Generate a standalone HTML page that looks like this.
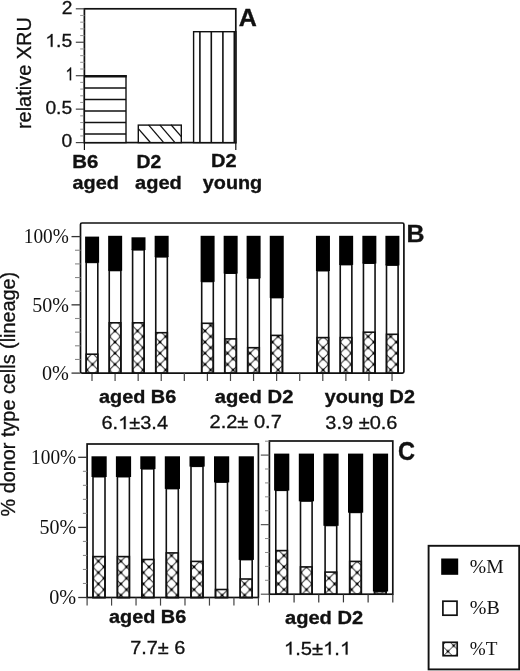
<!DOCTYPE html>
<html><head><meta charset="utf-8"><title>Figure</title>
<style>html,body{margin:0;padding:0;background:#fff;}svg{display:block;will-change:transform;filter:blur(0.35px);}text{white-space:pre;}.sans{font-family:"Liberation Sans",sans-serif;}.serif{font-family:"Liberation Serif",serif;}</style></head>
<body><svg width="520" height="671" viewBox="0 0 520 671" shape-rendering="geometricPrecision">
<rect x="0" y="0" width="520" height="671" fill="#fff"/>
<rect x="84.40" y="8.80" width="151.40" height="133.80" fill="none" stroke="#111" stroke-width="1.7"/>
<line x1="84.40" y1="142.60" x2="84.40" y2="150.00" stroke="#111" stroke-width="1.2" stroke-linecap="butt"/>
<line x1="235.80" y1="142.60" x2="235.80" y2="150.00" stroke="#111" stroke-width="1.2" stroke-linecap="butt"/>
<line x1="75.80" y1="8.80" x2="84.40" y2="8.80" stroke="#444" stroke-width="1.2" stroke-linecap="butt"/>
<line x1="80.20" y1="15.49" x2="84.40" y2="15.49" stroke="#999" stroke-width="1.1" stroke-linecap="butt"/>
<line x1="80.20" y1="22.18" x2="84.40" y2="22.18" stroke="#999" stroke-width="1.1" stroke-linecap="butt"/>
<line x1="80.20" y1="28.87" x2="84.40" y2="28.87" stroke="#999" stroke-width="1.1" stroke-linecap="butt"/>
<line x1="80.20" y1="35.56" x2="84.40" y2="35.56" stroke="#999" stroke-width="1.1" stroke-linecap="butt"/>
<line x1="75.80" y1="42.25" x2="84.40" y2="42.25" stroke="#444" stroke-width="1.2" stroke-linecap="butt"/>
<line x1="80.20" y1="48.94" x2="84.40" y2="48.94" stroke="#999" stroke-width="1.1" stroke-linecap="butt"/>
<line x1="80.20" y1="55.63" x2="84.40" y2="55.63" stroke="#999" stroke-width="1.1" stroke-linecap="butt"/>
<line x1="80.20" y1="62.32" x2="84.40" y2="62.32" stroke="#999" stroke-width="1.1" stroke-linecap="butt"/>
<line x1="80.20" y1="69.01" x2="84.40" y2="69.01" stroke="#999" stroke-width="1.1" stroke-linecap="butt"/>
<line x1="75.80" y1="75.70" x2="84.40" y2="75.70" stroke="#444" stroke-width="1.2" stroke-linecap="butt"/>
<line x1="80.20" y1="82.39" x2="84.40" y2="82.39" stroke="#999" stroke-width="1.1" stroke-linecap="butt"/>
<line x1="80.20" y1="89.08" x2="84.40" y2="89.08" stroke="#999" stroke-width="1.1" stroke-linecap="butt"/>
<line x1="80.20" y1="95.77" x2="84.40" y2="95.77" stroke="#999" stroke-width="1.1" stroke-linecap="butt"/>
<line x1="80.20" y1="102.46" x2="84.40" y2="102.46" stroke="#999" stroke-width="1.1" stroke-linecap="butt"/>
<line x1="75.80" y1="109.15" x2="84.40" y2="109.15" stroke="#444" stroke-width="1.2" stroke-linecap="butt"/>
<line x1="80.20" y1="115.84" x2="84.40" y2="115.84" stroke="#999" stroke-width="1.1" stroke-linecap="butt"/>
<line x1="80.20" y1="122.53" x2="84.40" y2="122.53" stroke="#999" stroke-width="1.1" stroke-linecap="butt"/>
<line x1="80.20" y1="129.22" x2="84.40" y2="129.22" stroke="#999" stroke-width="1.1" stroke-linecap="butt"/>
<line x1="80.20" y1="135.91" x2="84.40" y2="135.91" stroke="#999" stroke-width="1.1" stroke-linecap="butt"/>
<line x1="75.80" y1="142.60" x2="84.40" y2="142.60" stroke="#444" stroke-width="1.2" stroke-linecap="butt"/>
<text transform="translate(61.68,14.10) scale(1.0400,1)" class="sans" font-size="18.5" font-weight="normal" fill="#111" stroke="#111" stroke-width="0.3">2</text>
<g transform="translate(45.31,46.85) scale(1.0455,1)" class="sans" font-size="18.5" fill="#111" stroke="#111" stroke-width="0.3"><path transform="translate(0.00,0) scale(0.00903,-0.00878)" d="M763 0H583V1147Q518 1085 412.5 1023T223 930V1104Q373 1174.5 485 1275T644 1466H763Z" stroke-width="33.2"/><text x="10.29" y="0">.5</text></g>
<g transform="translate(65.59,80.30) scale(0.7995,1)" class="sans" font-size="18.5" fill="#111" stroke="#111" stroke-width="0.3"><path transform="translate(0.00,0) scale(0.00903,-0.00878)" d="M763 0H583V1147Q518 1085 412.5 1023T223 930V1104Q373 1174.5 485 1275T644 1466H763Z" stroke-width="33.2"/></g>
<text transform="translate(45.43,113.75) scale(1.0400,1)" class="sans" font-size="18.5" font-weight="normal" fill="#111" stroke="#111" stroke-width="0.3">0.5</text>
<text transform="translate(61.44,147.20) scale(1.0400,1)" class="sans" font-size="18.5" font-weight="normal" fill="#111" stroke="#111" stroke-width="0.3">0</text>
<text transform="translate(30.80,129.05) rotate(-90) scale(1.0181,1)" class="sans" font-size="19.6" font-weight="normal" fill="#111" stroke="#111" stroke-width="0.3">relative XRU</text>
<rect x="84.40" y="75.80" width="41.60" height="66.80" fill="#fff" stroke="#111" stroke-width="1.4"/>
<line x1="84.40" y1="76.20" x2="126.70" y2="76.20" stroke="#111" stroke-width="2.6" stroke-linecap="butt"/>
<line x1="84.40" y1="88.10" x2="126.00" y2="88.10" stroke="#111" stroke-width="1.5" stroke-linecap="butt"/>
<line x1="84.40" y1="99.50" x2="126.00" y2="99.50" stroke="#111" stroke-width="1.5" stroke-linecap="butt"/>
<line x1="84.40" y1="111.00" x2="126.00" y2="111.00" stroke="#111" stroke-width="1.5" stroke-linecap="butt"/>
<line x1="84.40" y1="122.40" x2="126.00" y2="122.40" stroke="#111" stroke-width="1.5" stroke-linecap="butt"/>
<line x1="84.40" y1="134.00" x2="126.00" y2="134.00" stroke="#111" stroke-width="1.5" stroke-linecap="butt"/>
<defs><pattern id="dg" patternUnits="userSpaceOnUse" width="10" height="10" patternTransform="translate(142.9,124.7)"><path d="M-1,-1 L11,11 M-11,-1 L1,11 M9,-1 L21,11" stroke="#111" stroke-width="1.2" fill="none"/></pattern>
<pattern id="xh" patternUnits="userSpaceOnUse" width="11.25" height="11.15" patternTransform="translate(115,330.9)"><path d="M-1.125,-1.115 L12.375,12.265 M-1.125,12.265 L12.375,-1.115" stroke="#222" stroke-width="0.95" fill="none"/><circle cx="0" cy="0" r="1.4" fill="#000"/><circle cx="11.25" cy="0" r="1.4" fill="#000"/><circle cx="0" cy="11.15" r="1.4" fill="#000"/><circle cx="11.25" cy="11.15" r="1.4" fill="#000"/><circle cx="5.625" cy="5.575" r="1.4" fill="#000"/></pattern>
<pattern id="xc" patternUnits="userSpaceOnUse" width="11.25" height="11.35" patternTransform="translate(284,578.3)"><path d="M-1.125,-1.135 L12.375,12.485 M-1.125,12.485 L12.375,-1.135" stroke="#222" stroke-width="0.95" fill="none"/><circle cx="0" cy="0" r="1.4" fill="#000"/><circle cx="11.25" cy="0" r="1.4" fill="#000"/><circle cx="0" cy="11.35" r="1.4" fill="#000"/><circle cx="11.25" cy="11.35" r="1.4" fill="#000"/><circle cx="5.625" cy="5.675" r="1.4" fill="#000"/></pattern>
<pattern id="xl" patternUnits="userSpaceOnUse" width="11.5" height="11.5" patternTransform="translate(453.7,645.7)"><path d="M-1.150,-1.150 L12.650,12.650 M-1.150,12.650 L12.650,-1.150" stroke="#222" stroke-width="0.95" fill="none"/><circle cx="0" cy="0" r="1.4" fill="#000"/><circle cx="11.5" cy="0" r="1.4" fill="#000"/><circle cx="0" cy="11.5" r="1.4" fill="#000"/><circle cx="11.5" cy="11.5" r="1.4" fill="#000"/><circle cx="5.75" cy="5.75" r="1.4" fill="#000"/></pattern></defs>
<rect x="138.30" y="125.10" width="43.00" height="17.50" fill="#fff" stroke="#111" stroke-width="1.4"/>
<line x1="138.30" y1="128.60" x2="150.20" y2="142.20" stroke="#111" stroke-width="1.3" stroke-linecap="butt"/>
<line x1="148.50" y1="124.80" x2="163.30" y2="142.20" stroke="#111" stroke-width="1.3" stroke-linecap="butt"/>
<line x1="159.80" y1="124.80" x2="174.60" y2="142.20" stroke="#111" stroke-width="1.3" stroke-linecap="butt"/>
<line x1="171.00" y1="124.80" x2="181.30" y2="136.60" stroke="#111" stroke-width="1.3" stroke-linecap="butt"/>
<rect x="193.60" y="31.70" width="42.20" height="110.90" fill="#fff" stroke="#111" stroke-width="1.4"/>
<line x1="199.90" y1="31.70" x2="199.90" y2="142.60" stroke="#111" stroke-width="1.6" stroke-linecap="butt"/>
<line x1="211.30" y1="31.70" x2="211.30" y2="142.60" stroke="#111" stroke-width="1.6" stroke-linecap="butt"/>
<line x1="222.90" y1="31.70" x2="222.90" y2="142.60" stroke="#111" stroke-width="1.6" stroke-linecap="butt"/>
<line x1="234.30" y1="31.70" x2="234.30" y2="142.60" stroke="#111" stroke-width="1.6" stroke-linecap="butt"/>
<text transform="translate(238.77,25.75) scale(1.0193,1)" class="sans" font-size="24.6" font-weight="bold" fill="#111" stroke="#111" stroke-width="0.35">A</text>
<text transform="translate(72.37,167.50) scale(1.0672,1)" class="sans" font-size="19.1" font-weight="bold" fill="#111" stroke="#111" stroke-width="0.35">B6</text>
<text transform="translate(72.50,189.40) scale(1.0389,1)" class="sans" font-size="19.1" font-weight="bold" fill="#111" stroke="#111" stroke-width="0.35">aged</text>
<text transform="translate(136.60,167.50) scale(1.0113,1)" class="sans" font-size="19.1" font-weight="bold" fill="#111" stroke="#111" stroke-width="0.35">D2</text>
<text transform="translate(135.10,189.40) scale(1.0483,1)" class="sans" font-size="19.1" font-weight="bold" fill="#111" stroke="#111" stroke-width="0.35">aged</text>
<text transform="translate(210.95,166.90) scale(1.0471,1)" class="sans" font-size="19.1" font-weight="bold" fill="#111" stroke="#111" stroke-width="0.35">D2</text>
<text transform="translate(202.85,189.00) scale(1.0373,1)" class="sans" font-size="19.1" font-weight="bold" fill="#111" stroke="#111" stroke-width="0.35">young</text>
<text transform="translate(14.90,516.39) rotate(-90) scale(1.0171,1)" class="sans" font-size="19.5" font-weight="normal" fill="#111" stroke="#111" stroke-width="0.3">% donor type cells (lineage)</text>
<rect x="80.5" y="223" width="323.4" height="150.10000000000002" rx="1.5" fill="none" stroke="#111" stroke-width="1.7"/>
<line x1="71.50" y1="236.60" x2="80.50" y2="236.60" stroke="#333" stroke-width="1.3" stroke-linecap="butt"/>
<line x1="75.00" y1="250.25" x2="80.50" y2="250.25" stroke="#8a8a8a" stroke-width="1.1" stroke-linecap="butt"/>
<line x1="75.00" y1="263.90" x2="80.50" y2="263.90" stroke="#8a8a8a" stroke-width="1.1" stroke-linecap="butt"/>
<line x1="75.00" y1="277.55" x2="80.50" y2="277.55" stroke="#8a8a8a" stroke-width="1.1" stroke-linecap="butt"/>
<line x1="75.00" y1="291.20" x2="80.50" y2="291.20" stroke="#8a8a8a" stroke-width="1.1" stroke-linecap="butt"/>
<line x1="71.50" y1="304.85" x2="80.50" y2="304.85" stroke="#333" stroke-width="1.3" stroke-linecap="butt"/>
<line x1="75.00" y1="318.50" x2="80.50" y2="318.50" stroke="#8a8a8a" stroke-width="1.1" stroke-linecap="butt"/>
<line x1="75.00" y1="332.15" x2="80.50" y2="332.15" stroke="#8a8a8a" stroke-width="1.1" stroke-linecap="butt"/>
<line x1="75.00" y1="345.80" x2="80.50" y2="345.80" stroke="#8a8a8a" stroke-width="1.1" stroke-linecap="butt"/>
<line x1="75.00" y1="359.45" x2="80.50" y2="359.45" stroke="#8a8a8a" stroke-width="1.1" stroke-linecap="butt"/>
<line x1="71.50" y1="373.10" x2="80.50" y2="373.10" stroke="#333" stroke-width="1.3" stroke-linecap="butt"/>
<text transform="translate(23.81,243.30) scale(0.9650,1)" class="serif" font-size="20.0" font-weight="normal" fill="#111">100%</text>
<text transform="translate(32.20,311.55) scale(1.0000,1)" class="serif" font-size="20.0" font-weight="normal" fill="#111">50%</text>
<text transform="translate(41.94,379.80) scale(1.0100,1)" class="serif" font-size="20.0" font-weight="normal" fill="#111">0%</text>
<line x1="92.00" y1="373.10" x2="92.00" y2="381.00" stroke="#444" stroke-width="1.2" stroke-linecap="butt"/>
<line x1="115.08" y1="373.10" x2="115.08" y2="381.00" stroke="#444" stroke-width="1.2" stroke-linecap="butt"/>
<line x1="138.16" y1="373.10" x2="138.16" y2="381.00" stroke="#444" stroke-width="1.2" stroke-linecap="butt"/>
<line x1="161.24" y1="373.10" x2="161.24" y2="381.00" stroke="#444" stroke-width="1.2" stroke-linecap="butt"/>
<line x1="184.32" y1="373.10" x2="184.32" y2="381.00" stroke="#444" stroke-width="1.2" stroke-linecap="butt"/>
<line x1="207.40" y1="373.10" x2="207.40" y2="381.00" stroke="#444" stroke-width="1.2" stroke-linecap="butt"/>
<line x1="230.48" y1="373.10" x2="230.48" y2="381.00" stroke="#444" stroke-width="1.2" stroke-linecap="butt"/>
<line x1="253.56" y1="373.10" x2="253.56" y2="381.00" stroke="#444" stroke-width="1.2" stroke-linecap="butt"/>
<line x1="276.64" y1="373.10" x2="276.64" y2="381.00" stroke="#444" stroke-width="1.2" stroke-linecap="butt"/>
<line x1="299.72" y1="373.10" x2="299.72" y2="381.00" stroke="#444" stroke-width="1.2" stroke-linecap="butt"/>
<line x1="322.80" y1="373.10" x2="322.80" y2="381.00" stroke="#444" stroke-width="1.2" stroke-linecap="butt"/>
<line x1="345.88" y1="373.10" x2="345.88" y2="381.00" stroke="#444" stroke-width="1.2" stroke-linecap="butt"/>
<line x1="368.96" y1="373.10" x2="368.96" y2="381.00" stroke="#444" stroke-width="1.2" stroke-linecap="butt"/>
<line x1="392.04" y1="373.10" x2="392.04" y2="381.00" stroke="#444" stroke-width="1.2" stroke-linecap="butt"/>
<rect x="86.20" y="262.40" width="11.60" height="110.70" fill="#fff" stroke="#111" stroke-width="1.6"/>
<rect x="86.20" y="354.20" width="11.60" height="18.90" fill="url(#xh)" stroke="#111" stroke-width="1.6"/>
<rect x="85.10" y="236.60" width="14.00" height="26.10" fill="#000" stroke="none"/>
<rect x="109.25" y="270.50" width="11.60" height="102.60" fill="#fff" stroke="#111" stroke-width="1.6"/>
<rect x="109.25" y="322.80" width="11.60" height="50.30" fill="url(#xh)" stroke="#111" stroke-width="1.6"/>
<rect x="108.15" y="235.80" width="14.00" height="35.00" fill="#000" stroke="none"/>
<rect x="132.60" y="249.80" width="11.60" height="123.30" fill="#fff" stroke="#111" stroke-width="1.6"/>
<rect x="132.60" y="322.80" width="11.60" height="50.30" fill="url(#xh)" stroke="#111" stroke-width="1.6"/>
<rect x="131.50" y="237.30" width="14.00" height="12.80" fill="#000" stroke="none"/>
<rect x="155.75" y="256.80" width="11.60" height="116.30" fill="#fff" stroke="#111" stroke-width="1.6"/>
<rect x="155.75" y="332.70" width="11.60" height="40.40" fill="url(#xh)" stroke="#111" stroke-width="1.6"/>
<rect x="154.65" y="235.80" width="14.00" height="21.30" fill="#000" stroke="none"/>
<rect x="201.70" y="281.50" width="11.60" height="91.60" fill="#fff" stroke="#111" stroke-width="1.6"/>
<rect x="201.70" y="323.30" width="11.60" height="49.80" fill="url(#xh)" stroke="#111" stroke-width="1.6"/>
<rect x="200.60" y="235.80" width="14.00" height="46.00" fill="#000" stroke="none"/>
<rect x="224.75" y="273.20" width="11.60" height="99.90" fill="#fff" stroke="#111" stroke-width="1.6"/>
<rect x="224.75" y="338.90" width="11.60" height="34.20" fill="url(#xh)" stroke="#111" stroke-width="1.6"/>
<rect x="223.65" y="235.80" width="14.00" height="37.70" fill="#000" stroke="none"/>
<rect x="247.70" y="278.00" width="11.60" height="95.10" fill="#fff" stroke="#111" stroke-width="1.6"/>
<rect x="247.70" y="347.70" width="11.60" height="25.40" fill="url(#xh)" stroke="#111" stroke-width="1.6"/>
<rect x="246.60" y="235.80" width="14.00" height="42.50" fill="#000" stroke="none"/>
<rect x="270.85" y="297.60" width="11.60" height="75.50" fill="#fff" stroke="#111" stroke-width="1.6"/>
<rect x="270.85" y="335.40" width="11.60" height="37.70" fill="url(#xh)" stroke="#111" stroke-width="1.6"/>
<rect x="269.75" y="235.80" width="14.00" height="62.10" fill="#000" stroke="none"/>
<rect x="317.05" y="270.70" width="11.60" height="102.40" fill="#fff" stroke="#111" stroke-width="1.6"/>
<rect x="317.05" y="337.60" width="11.60" height="35.50" fill="url(#xh)" stroke="#111" stroke-width="1.6"/>
<rect x="315.95" y="235.80" width="14.00" height="35.20" fill="#000" stroke="none"/>
<rect x="340.25" y="264.60" width="11.60" height="108.50" fill="#fff" stroke="#111" stroke-width="1.6"/>
<rect x="340.25" y="337.60" width="11.60" height="35.50" fill="url(#xh)" stroke="#111" stroke-width="1.6"/>
<rect x="339.15" y="235.80" width="14.00" height="29.10" fill="#000" stroke="none"/>
<rect x="363.45" y="263.20" width="11.60" height="109.90" fill="#fff" stroke="#111" stroke-width="1.6"/>
<rect x="363.45" y="332.20" width="11.60" height="40.90" fill="url(#xh)" stroke="#111" stroke-width="1.6"/>
<rect x="362.35" y="235.80" width="14.00" height="27.70" fill="#000" stroke="none"/>
<rect x="386.50" y="265.10" width="11.60" height="108.00" fill="#fff" stroke="#111" stroke-width="1.6"/>
<rect x="386.50" y="334.30" width="11.60" height="38.80" fill="url(#xh)" stroke="#111" stroke-width="1.6"/>
<rect x="385.40" y="235.80" width="14.00" height="29.60" fill="#000" stroke="none"/>
<text transform="translate(406.62,241.70) scale(1.0212,1)" class="sans" font-size="24.4" font-weight="bold" fill="#111" stroke="#111" stroke-width="0.35">B</text>
<text transform="translate(99.00,402.50) scale(1.0458,1)" class="sans" font-size="19.0" font-weight="bold" fill="#111" stroke="#111" stroke-width="0.35">aged B6</text>
<g transform="translate(101.50,429.10) scale(1.0869,1)" class="sans" font-size="18.4" fill="#111" stroke="#111" stroke-width="0.3"><text x="0.00" y="0">6.</text><path transform="translate(15.35,0) scale(0.00898,-0.00873)" d="M763 0H583V1147Q518 1085 412.5 1023T223 930V1104Q373 1174.5 485 1275T644 1466H763Z" stroke-width="33.4"/><text x="25.58" y="0">±3.4</text></g>
<text transform="translate(214.79,402.50) scale(1.0637,1)" class="sans" font-size="19.0" font-weight="bold" fill="#111" stroke="#111" stroke-width="0.35">aged D2</text>
<text transform="translate(209.50,428.00) scale(1.0901,1)" class="sans" font-size="18.4" font-weight="normal" fill="#111" stroke="#111" stroke-width="0.3">2.2± 0.7</text>
<text transform="translate(324.75,402.80) scale(1.0427,1)" class="sans" font-size="19.0" font-weight="bold" fill="#111" stroke="#111" stroke-width="0.35">young D2</text>
<text transform="translate(325.35,429.00) scale(1.0854,1)" class="sans" font-size="18.4" font-weight="normal" fill="#111" stroke="#111" stroke-width="0.3">3.9 ±0.6</text>
<rect x="87.10" y="444.00" width="171.30" height="153.50" fill="none" stroke="#111" stroke-width="1.7"/>
<line x1="78.20" y1="457.30" x2="87.10" y2="457.30" stroke="#333" stroke-width="1.3" stroke-linecap="butt"/>
<line x1="82.90" y1="471.32" x2="87.10" y2="471.32" stroke="#8a8a8a" stroke-width="1.1" stroke-linecap="butt"/>
<line x1="82.90" y1="485.34" x2="87.10" y2="485.34" stroke="#8a8a8a" stroke-width="1.1" stroke-linecap="butt"/>
<line x1="82.90" y1="499.36" x2="87.10" y2="499.36" stroke="#8a8a8a" stroke-width="1.1" stroke-linecap="butt"/>
<line x1="82.90" y1="513.38" x2="87.10" y2="513.38" stroke="#8a8a8a" stroke-width="1.1" stroke-linecap="butt"/>
<line x1="78.20" y1="527.40" x2="87.10" y2="527.40" stroke="#333" stroke-width="1.3" stroke-linecap="butt"/>
<line x1="82.90" y1="541.42" x2="87.10" y2="541.42" stroke="#8a8a8a" stroke-width="1.1" stroke-linecap="butt"/>
<line x1="82.90" y1="555.44" x2="87.10" y2="555.44" stroke="#8a8a8a" stroke-width="1.1" stroke-linecap="butt"/>
<line x1="82.90" y1="569.46" x2="87.10" y2="569.46" stroke="#8a8a8a" stroke-width="1.1" stroke-linecap="butt"/>
<line x1="82.90" y1="583.48" x2="87.10" y2="583.48" stroke="#8a8a8a" stroke-width="1.1" stroke-linecap="butt"/>
<line x1="78.20" y1="597.50" x2="87.10" y2="597.50" stroke="#333" stroke-width="1.3" stroke-linecap="butt"/>
<text transform="translate(31.11,463.80) scale(0.9650,1)" class="serif" font-size="20.0" font-weight="normal" fill="#111">100%</text>
<text transform="translate(39.50,533.90) scale(1.0000,1)" class="serif" font-size="20.0" font-weight="normal" fill="#111">50%</text>
<text transform="translate(49.24,604.00) scale(1.0100,1)" class="serif" font-size="20.0" font-weight="normal" fill="#111">0%</text>
<line x1="87.10" y1="597.50" x2="87.10" y2="605.60" stroke="#444" stroke-width="1.2" stroke-linecap="butt"/>
<line x1="111.57" y1="597.50" x2="111.57" y2="605.60" stroke="#444" stroke-width="1.2" stroke-linecap="butt"/>
<line x1="136.04" y1="597.50" x2="136.04" y2="605.60" stroke="#444" stroke-width="1.2" stroke-linecap="butt"/>
<line x1="160.51" y1="597.50" x2="160.51" y2="605.60" stroke="#444" stroke-width="1.2" stroke-linecap="butt"/>
<line x1="184.99" y1="597.50" x2="184.99" y2="605.60" stroke="#444" stroke-width="1.2" stroke-linecap="butt"/>
<line x1="209.46" y1="597.50" x2="209.46" y2="605.60" stroke="#444" stroke-width="1.2" stroke-linecap="butt"/>
<line x1="233.93" y1="597.50" x2="233.93" y2="605.60" stroke="#444" stroke-width="1.2" stroke-linecap="butt"/>
<line x1="258.40" y1="597.50" x2="258.40" y2="605.60" stroke="#444" stroke-width="1.2" stroke-linecap="butt"/>
<rect x="93.00" y="476.70" width="12.00" height="120.80" fill="#fff" stroke="#111" stroke-width="1.6"/>
<rect x="93.00" y="556.60" width="12.00" height="40.90" fill="url(#xc)" stroke="#111" stroke-width="1.6"/>
<rect x="91.50" y="456.30" width="15.20" height="20.70" fill="#000" stroke="none"/>
<rect x="117.40" y="476.70" width="12.00" height="120.80" fill="#fff" stroke="#111" stroke-width="1.6"/>
<rect x="117.40" y="556.60" width="12.00" height="40.90" fill="url(#xc)" stroke="#111" stroke-width="1.6"/>
<rect x="115.90" y="456.30" width="15.20" height="20.70" fill="#000" stroke="none"/>
<rect x="141.80" y="468.80" width="12.00" height="128.70" fill="#fff" stroke="#111" stroke-width="1.6"/>
<rect x="141.80" y="559.50" width="12.00" height="38.00" fill="url(#xc)" stroke="#111" stroke-width="1.6"/>
<rect x="140.30" y="456.30" width="15.20" height="12.80" fill="#000" stroke="none"/>
<rect x="166.30" y="488.60" width="12.00" height="108.90" fill="#fff" stroke="#111" stroke-width="1.6"/>
<rect x="166.30" y="552.90" width="12.00" height="44.60" fill="url(#xc)" stroke="#111" stroke-width="1.6"/>
<rect x="164.80" y="456.30" width="15.20" height="32.60" fill="#000" stroke="none"/>
<rect x="191.00" y="466.30" width="12.00" height="131.20" fill="#fff" stroke="#111" stroke-width="1.6"/>
<rect x="191.00" y="561.40" width="12.00" height="36.10" fill="url(#xc)" stroke="#111" stroke-width="1.6"/>
<rect x="189.50" y="456.30" width="15.20" height="10.30" fill="#000" stroke="none"/>
<rect x="215.50" y="482.10" width="12.00" height="115.40" fill="#fff" stroke="#111" stroke-width="1.6"/>
<rect x="215.50" y="589.50" width="12.00" height="8.00" fill="url(#xc)" stroke="#111" stroke-width="1.6"/>
<rect x="214.00" y="456.30" width="15.20" height="26.10" fill="#000" stroke="none"/>
<rect x="240.20" y="559.60" width="12.00" height="37.90" fill="#fff" stroke="#111" stroke-width="1.6"/>
<rect x="240.20" y="579.00" width="12.00" height="18.50" fill="url(#xc)" stroke="#111" stroke-width="1.6"/>
<rect x="238.70" y="456.30" width="15.20" height="103.60" fill="#000" stroke="none"/>
<rect x="269.40" y="441.00" width="123.40" height="153.20" fill="none" stroke="#111" stroke-width="1.7"/>
<line x1="265.00" y1="441.19" x2="269.40" y2="441.19" stroke="#8a8a8a" stroke-width="1.0" stroke-linecap="butt"/>
<line x1="260.80" y1="455.10" x2="269.40" y2="455.10" stroke="#555" stroke-width="1.2" stroke-linecap="butt"/>
<line x1="265.00" y1="469.01" x2="269.40" y2="469.01" stroke="#8a8a8a" stroke-width="1.0" stroke-linecap="butt"/>
<line x1="265.00" y1="482.92" x2="269.40" y2="482.92" stroke="#8a8a8a" stroke-width="1.0" stroke-linecap="butt"/>
<line x1="265.00" y1="496.83" x2="269.40" y2="496.83" stroke="#8a8a8a" stroke-width="1.0" stroke-linecap="butt"/>
<line x1="265.00" y1="510.74" x2="269.40" y2="510.74" stroke="#8a8a8a" stroke-width="1.0" stroke-linecap="butt"/>
<line x1="260.80" y1="524.65" x2="269.40" y2="524.65" stroke="#555" stroke-width="1.2" stroke-linecap="butt"/>
<line x1="265.00" y1="538.56" x2="269.40" y2="538.56" stroke="#8a8a8a" stroke-width="1.0" stroke-linecap="butt"/>
<line x1="265.00" y1="552.47" x2="269.40" y2="552.47" stroke="#8a8a8a" stroke-width="1.0" stroke-linecap="butt"/>
<line x1="265.00" y1="566.38" x2="269.40" y2="566.38" stroke="#8a8a8a" stroke-width="1.0" stroke-linecap="butt"/>
<line x1="265.00" y1="580.29" x2="269.40" y2="580.29" stroke="#8a8a8a" stroke-width="1.0" stroke-linecap="butt"/>
<line x1="260.80" y1="594.20" x2="269.40" y2="594.20" stroke="#555" stroke-width="1.2" stroke-linecap="butt"/>
<line x1="269.40" y1="594.20" x2="269.40" y2="602.40" stroke="#333" stroke-width="1.2" stroke-linecap="butt"/>
<line x1="294.08" y1="594.20" x2="294.08" y2="602.40" stroke="#333" stroke-width="1.2" stroke-linecap="butt"/>
<line x1="318.76" y1="594.20" x2="318.76" y2="602.40" stroke="#333" stroke-width="1.2" stroke-linecap="butt"/>
<line x1="343.44" y1="594.20" x2="343.44" y2="602.40" stroke="#333" stroke-width="1.2" stroke-linecap="butt"/>
<line x1="368.12" y1="594.20" x2="368.12" y2="602.40" stroke="#333" stroke-width="1.2" stroke-linecap="butt"/>
<line x1="392.80" y1="594.20" x2="392.80" y2="602.40" stroke="#333" stroke-width="1.2" stroke-linecap="butt"/>
<rect x="275.80" y="490.30" width="11.60" height="103.90" fill="#fff" stroke="#111" stroke-width="1.6"/>
<rect x="275.80" y="550.60" width="11.60" height="43.60" fill="url(#xc)" stroke="#111" stroke-width="1.6"/>
<rect x="274.10" y="453.60" width="15.20" height="37.00" fill="#000" stroke="none"/>
<rect x="300.50" y="501.00" width="11.60" height="93.20" fill="#fff" stroke="#111" stroke-width="1.6"/>
<rect x="300.50" y="566.90" width="11.60" height="27.30" fill="url(#xc)" stroke="#111" stroke-width="1.6"/>
<rect x="298.80" y="453.60" width="15.20" height="47.70" fill="#000" stroke="none"/>
<rect x="325.10" y="525.50" width="11.60" height="68.70" fill="#fff" stroke="#111" stroke-width="1.6"/>
<rect x="325.10" y="572.10" width="11.60" height="22.10" fill="url(#xc)" stroke="#111" stroke-width="1.6"/>
<rect x="323.40" y="453.60" width="15.20" height="72.20" fill="#000" stroke="none"/>
<rect x="349.70" y="512.40" width="11.60" height="81.80" fill="#fff" stroke="#111" stroke-width="1.6"/>
<rect x="349.70" y="561.40" width="11.60" height="32.80" fill="url(#xc)" stroke="#111" stroke-width="1.6"/>
<rect x="348.00" y="453.60" width="15.20" height="59.10" fill="#000" stroke="none"/>
<rect x="374.60" y="591.20" width="11.60" height="3.00" fill="#fff" stroke="#111" stroke-width="1.6"/>
<rect x="374.60" y="591.60" width="11.60" height="2.60" fill="url(#xc)" stroke="#111" stroke-width="1.6"/>
<rect x="372.90" y="453.60" width="15.20" height="137.90" fill="#000" stroke="none"/>
<text transform="translate(397.96,460.30) scale(0.9442,1)" class="sans" font-size="24.9" font-weight="bold" fill="#111" stroke="#111" stroke-width="0.35">C</text>
<text transform="translate(109.00,623.30) scale(1.0458,1)" class="sans" font-size="19.0" font-weight="bold" fill="#111" stroke="#111" stroke-width="0.35">aged B6</text>
<text transform="translate(130.15,654.40) scale(1.0839,1)" class="sans" font-size="18.4" font-weight="normal" fill="#111" stroke="#111" stroke-width="0.3">7.7± 6</text>
<text transform="translate(285.00,623.70) scale(1.0568,1)" class="sans" font-size="19.0" font-weight="bold" fill="#111" stroke="#111" stroke-width="0.35">aged D2</text>
<g transform="translate(283.90,654.60) scale(1.0988,1)" class="sans" font-size="18.4" fill="#111" stroke="#111" stroke-width="0.3"><path transform="translate(0.00,0) scale(0.00898,-0.00873)" d="M763 0H583V1147Q518 1085 412.5 1023T223 930V1104Q373 1174.5 485 1275T644 1466H763Z" stroke-width="33.4"/><text x="10.23" y="0">.5±</text><path transform="translate(35.68,0) scale(0.00898,-0.00873)" d="M763 0H583V1147Q518 1085 412.5 1023T223 930V1104Q373 1174.5 485 1275T644 1466H763Z" stroke-width="33.4"/><text x="45.91" y="0">.</text><path transform="translate(51.03,0) scale(0.00898,-0.00873)" d="M763 0H583V1147Q518 1085 412.5 1023T223 930V1104Q373 1174.5 485 1275T644 1466H763Z" stroke-width="33.4"/></g>
<rect x="428.60" y="545.80" width="90.60" height="123.60" fill="none" stroke="#111" stroke-width="1.9"/>
<rect x="441.20" y="558.50" width="17.00" height="16.30" fill="#000" stroke="none"/>
<rect x="442.90" y="601.20" width="14.10" height="14.00" fill="#fff" stroke="#111" stroke-width="1.7"/>
<rect x="443.10" y="642.30" width="14.10" height="13.40" fill="url(#xl)" stroke="#111" stroke-width="1.7"/>
<text transform="translate(469.81,572.80) scale(1.0191,1)" class="serif" font-size="19.3" font-weight="normal" fill="#111">%M</text>
<text transform="translate(469.80,614.20) scale(1.0363,1)" class="serif" font-size="19.3" font-weight="normal" fill="#111">%B</text>
<text transform="translate(469.83,654.60) scale(0.9935,1)" class="serif" font-size="19.3" font-weight="normal" fill="#111">%T</text>
</svg></body></html>
